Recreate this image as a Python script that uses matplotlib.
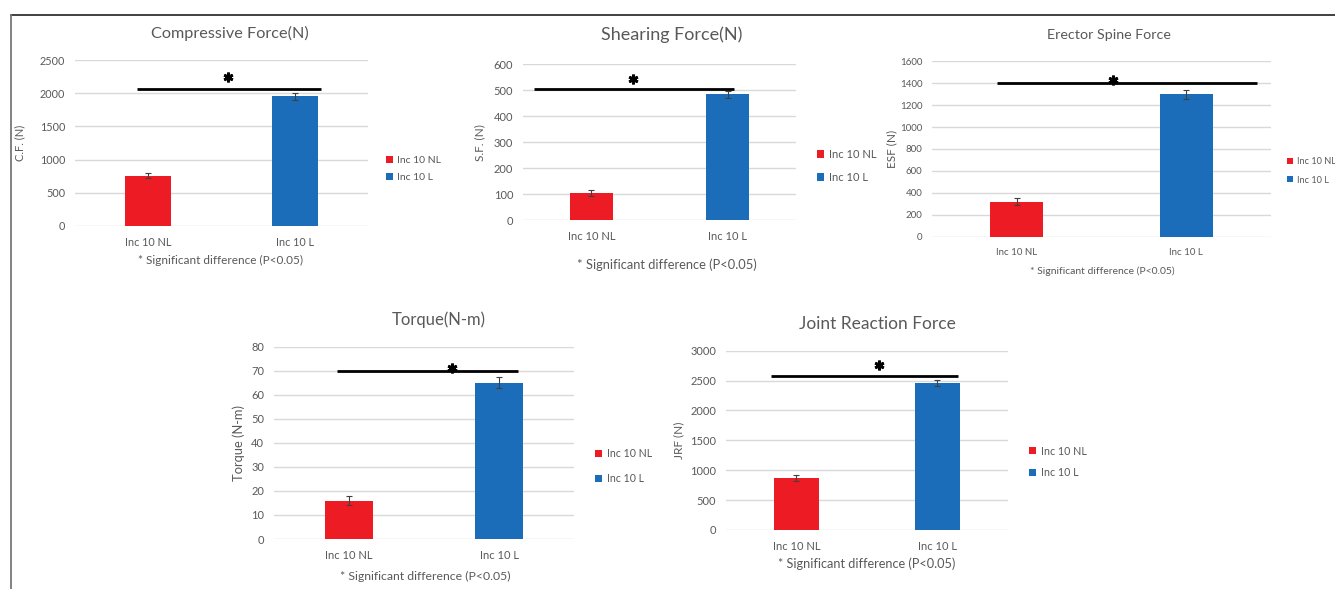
import matplotlib
matplotlib.use("Agg")
import matplotlib.pyplot as plt
import matplotlib.transforms as mtransforms

plt.rcParams['font.family'] = ['Lato', 'DejaVu Sans']

# group labels and colours
categories = ['Inc 10 NL', 'Inc 10 L']
bar_colors = ['#ED1C24', '#1B6DBA']

# mean +/- error for each outcome, and the height of the significance bar
cf_mean = [756, 1956]
cf_err = [33, 50]
cf_sig = 2070

sf_mean = [104, 485]
sf_err = [12, 14]
sf_sig = 505

esf_mean = [320, 1300]
esf_err = [32, 42]
esf_sig = 1400

torque_mean = [16, 65]
torque_err = [1.8, 2.3]
torque_sig = 70

jrf_mean = [862, 2452]
jrf_err = [50, 50]
jrf_sig = 2570

footnote = '* Significant difference (P<0.05)'

W, H = 1335, 589
TXT = '#595959'
GRID = '#D9D9D9'

fig = plt.figure(figsize=(W / 100, H / 100), dpi=100)


def frac(x, y):
    return x / W, 1 - y / H


# frame lines along the top and left edge
fig.add_artist(plt.Line2D([11 / W, 1], [1 - 14.5 / H] * 2, color='#333333', lw=1.3))
fig.add_artist(plt.Line2D([11 / W] * 2, [0, 1 - 14.5 / H], color='#777777', lw=1.3))


def panel(box, mean, err, sig, ymax, step, title, title_xy, title_fs, ylabel, ylabel_x,
          legend_xy, legend_gap, star_x, star_dy, sig_span, foot_xy,
          fs=7.5, foot_fs=8.5, leg_fs=7, ylab_fs=8.5):
    x0, y0, x1, y1 = box
    ax = fig.add_axes([x0 / W, 1 - y1 / H, (x1 - x0) / W, (y1 - y0) / H])
    xs = range(len(categories))
    bars = []
    for i in xs:
        b = ax.bar(i, mean[i], width=0.315, color=bar_colors[i], zorder=2,
                   yerr=err[i], error_kw=dict(ecolor='#404040', elinewidth=0.8,
                                              capsize=2.2, capthick=0.8, zorder=3))
        bars.append(b)
    ax.set_xlim(-0.5, 1.5)
    ax.set_ylim(0, ymax)
    ax.set_yticks(range(0, ymax + 1, step))
    ax.set_xticks(list(xs))
    ax.set_xticklabels(categories)
    ax.grid(axis='y', color=GRID, lw=1.0, zorder=0)
    ax.set_axisbelow(True)
    for s in ax.spines.values():
        s.set_visible(False)
    ax.tick_params(length=0, labelsize=fs, labelcolor=TXT)
    ax.tick_params(axis='y', pad=7)
    ax.tick_params(axis='x', pad=8)

    # significance bar and asterisk
    ax.plot(sig_span, [sig, sig], color='black', lw=2.0, zorder=4, solid_capstyle='butt')
    star_tr = mtransforms.offset_copy(ax.transData, fig=fig, y=star_dy, units='dots')
    ax.plot(star_x, sig, marker=(6, 2, 0), ms=7, mew=2.0, color='black',
            transform=star_tr, zorder=5)

    ax.set_ylabel(ylabel, fontsize=ylab_fs, color=TXT, va='center')
    ax.yaxis.set_label_coords((ylabel_x - x0) / (x1 - x0), 0.5)
    ax.set_xlabel(footnote, fontsize=foot_fs, color=TXT, va='center')
    ax.xaxis.set_label_coords((foot_xy[0] - x0) / (x1 - x0), -(foot_xy[1] - y1) / (y1 - y0))

    fig.text(*frac(*title_xy), title, fontsize=title_fs, color=TXT, ha='center', va='center')

    ax.legend(bars, categories, loc='center left', bbox_to_anchor=frac(*legend_xy),
              bbox_transform=fig.transFigure, frameon=False, borderpad=0, borderaxespad=0,
              handlelength=0.65, handleheight=0.65, handletextpad=0.45,
              labelspacing=legend_gap, fontsize=leg_fs, labelcolor=TXT)
    return ax


panel((75, 60.3, 368, 225.7), cf_mean, cf_err, cf_sig, 2500, 500,
      'Compressive Force(N)', (230, 33), 11.7, 'C.F. (N)', 20,
      (386, 169), 0.7, 0.544, 12, (-0.077, 1.18), (221, 260), fs=7.8, ylab_fs=8, leg_fs=7.5)

panel((523, 64.3, 796, 220.3), sf_mean, sf_err, sf_sig, 600, 100,
      'Shearing Force(N)', (672, 35), 13, 'S.F. (N)', 480,
      (817, 166), 1.1, 0.306, 10, (-0.42, 1.046), (667, 265), fs=8, foot_fs=9.3, leg_fs=8)

panel((932, 61.3, 1271, 236.7), esf_mean, esf_err, esf_sig, 1600, 200,
      'Erector Spine Force', (1109, 35), 10.3, 'ESF (N)', 892,
      (1287, 171), 1.0, 0.568, 3, (-0.117, 1.417), (1102, 271), fs=7, foot_fs=7.5, leg_fs=6.6)

panel((274, 346.7, 574, 539), torque_mean, torque_err, torque_sig, 80, 10,
      'Torque(N-m)', (439, 320), 12, 'Torque (N-m)', 239,
      (595, 466), 1.35, 0.687, 3, (-0.08, 1.127), (425, 576), fs=8, foot_fs=8.8, ylab_fs=9.3,
      leg_fs=7.6)

panel((726, 350.7, 1008, 530), jrf_mean, jrf_err, jrf_sig, 3000, 500,
      'Joint Reaction Force', (877, 324), 12.5, 'JRF (N)', 679,
      (1029, 462), 1.0, 0.585, 11, (-0.18, 1.145), (867, 564), fs=8, foot_fs=9.2, leg_fs=7.7)

fig.savefig('out.png', dpi=100)
